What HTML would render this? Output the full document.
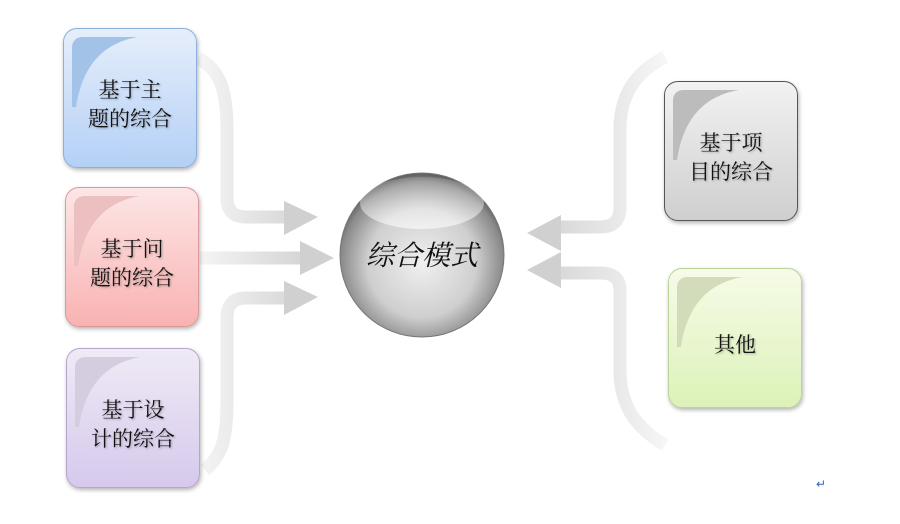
<!DOCTYPE html>
<html><head><meta charset="utf-8"><style>
body{margin:0;width:900px;height:524px;background:#fff;overflow:hidden;position:relative;font-family:"Liberation Serif","Noto Serif CJK SC",serif}
.b{position:absolute;width:134px;height:140px;border-radius:14px;box-sizing:border-box;box-shadow:1px 2px 4px rgba(0,0,0,.3);display:flex;align-items:center;justify-content:center;text-align:center;font-size:21px;line-height:29px;color:#111;text-shadow:1px 1px 2px rgba(0,0,0,.3);padding-top:14px}
.b::before{content:"";position:absolute;left:8px;top:8px;width:66px;height:70px;border-top-left-radius:10px;background:var(--s);clip-path:path('M0 0 L66 0 C30 6 10 30 4 70 L0 70 Z')}
.b span{position:relative}
</style></head><body>
<svg width="900" height="524" style="position:absolute;left:0;top:0">
<defs>
<linearGradient id="gl" gradientUnits="userSpaceOnUse" x1="195" y1="0" x2="320" y2="0"><stop offset="0" stop-color="#f6f6f6"/><stop offset="1" stop-color="#d0d0d0"/></linearGradient>
<linearGradient id="gr" gradientUnits="userSpaceOnUse" x1="665" y1="0" x2="527" y2="0"><stop offset="0" stop-color="#f6f6f6"/><stop offset="1" stop-color="#d0d0d0"/></linearGradient>
<radialGradient id="sp" cx="0.5" cy="0.55" r="0.55"><stop offset="0" stop-color="#f0f0f0"/><stop offset="0.6" stop-color="#cfcfcf"/><stop offset="0.9" stop-color="#8a8a8a"/><stop offset="1" stop-color="#5a5a5a"/></radialGradient>
<linearGradient id="hl" x1="0" y1="0" x2="0" y2="1"><stop offset="0" stop-color="#fff" stop-opacity=".15"/><stop offset="1" stop-color="#fff" stop-opacity=".6"/></linearGradient>
</defs>
<g fill="none" stroke="url(#gl)" stroke-width="13">
<path d="M198 58 C220 70 227 90 227 130 L227 198 Q227 217 246 217 L290 217"/>
<path d="M200 258 L305 258"/>
<path d="M205 470 C222 455 227 440 227 400 L227 318 Q227 298 246 298 L290 298"/>
</g>
<g fill="#d0d0d0">
<polygon points="284,201 318,217 284,235"/>
<polygon points="300,241 334,258 300,275"/>
<polygon points="284,281 318,297 284,315"/>
</g>
<g fill="none" stroke="url(#gr)" stroke-width="13">
<path d="M665 57 C640 70 620 90 620 130 L620 208 Q620 227 600 227 L560 227"/>
<path d="M665 445 C640 430 620 410 620 370 L620 290 Q620 273 600 273 L560 273"/>
</g>
<g fill="#d0d0d0">
<polygon points="561,215 527,233 561,251"/>
<polygon points="561,252 527,270 561,288"/>
</g>
<circle cx="422" cy="255" r="82" fill="url(#sp)" stroke="#777" stroke-width="1"/>
<ellipse cx="422" cy="203" rx="62" ry="26" fill="url(#hl)"/>
<text x="422" y="265" text-anchor="middle" font-size="28" font-style="italic" font-family="Liberation Serif,Noto Serif CJK SC,serif" fill="#111">综合模式</text>
<text x="816" y="488" font-size="12" fill="#3060c0">↵</text>
</svg>
<div class="b" style="left:63px;top:28px;background:linear-gradient(#e6eefb,#b4d0f6);border:1px solid #8cb0dc;--s:#a3c2e8"><span>基于主<br>题的综合</span></div>
<div class="b" style="left:65px;top:187px;background:linear-gradient(#fde6e6,#f9b2b2);border:1px solid #d89a9a;--s:#ecc0c0"><span>基于问<br>题的综合</span></div>
<div class="b" style="left:66px;top:348px;background:linear-gradient(#efeaf6,#d6c9ec);border:1px solid #b6a6cc;--s:#d4cde0"><span>基于设<br>计的综合</span></div>
<div class="b" style="left:664px;top:81px;background:linear-gradient(#f2f2f2,#cfcfcf);border:1px solid #555;--s:#bcbcbc"><span>基于项<br>目的综合</span></div>
<div class="b" style="left:668px;top:268px;background:linear-gradient(#f6fbe8,#dcf2b8);border:1px solid #bcd49a;--s:#d2dcba"><span>其他</span></div>
</body></html>
